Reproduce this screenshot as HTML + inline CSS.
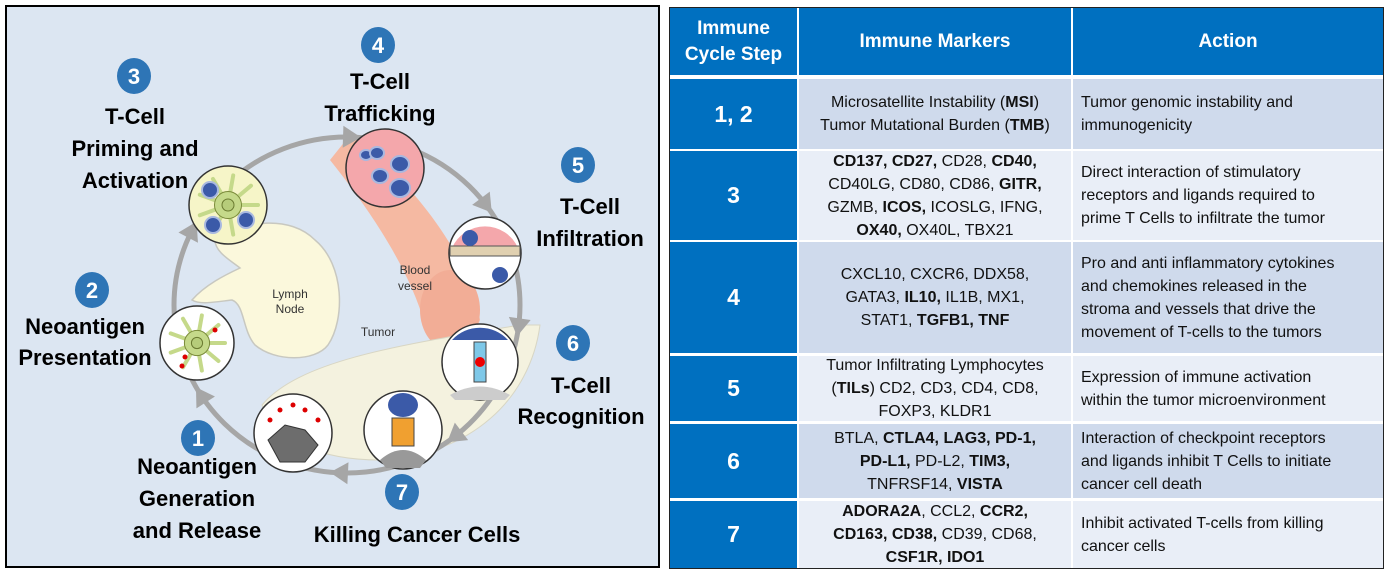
<!DOCTYPE html>
<html><head><meta charset="utf-8">
<style>
html,body{margin:0;padding:0;background:#fff;width:1387px;height:576px;overflow:hidden;font-family:"Liberation Sans",Arial,sans-serif;}
#left{position:absolute;left:5px;top:5px;width:651px;height:559px;border:2px solid #000;background:#dce6f2;}
#left svg{position:absolute;left:0;top:0;}
#tbl{position:absolute;left:669px;top:7px;width:713px;height:560px;border:1px solid #222;background:#fff;}
.c{position:absolute;display:flex;align-items:center;justify-content:center;text-align:center;box-sizing:border-box;font-size:16px;line-height:23px;color:#111;}
.h{background:#0070c0;color:#fff;font-weight:bold;font-size:19px;line-height:26px;}
.s{background:#0070c0;color:#fff;font-weight:bold;font-size:23px;}
.a{justify-content:flex-start;text-align:left;padding-left:8px;}
.d{background:#cfdaec;}
.l{background:#e9eef7;}
b{font-weight:bold;}
</style></head><body>
<div id="left">
<svg width="651" height="559" viewBox="7 7 651 559" xmlns="http://www.w3.org/2000/svg" id="dg">
  <path d="M215,240 C245,220 290,215 315,240 C345,265 345,320 328,345 C315,362 275,362 255,345 C242,330 245,305 232,300 C215,302 200,305 192,300 C205,285 225,275 240,268 C230,260 215,252 215,240 Z" fill="#fbf8dc" stroke="#c8c8c0" stroke-width="1.5"/>
  <text x="290" y="298" font-size="12" fill="#333" text-anchor="middle">Lymph</text>
  <text x="290" y="313" font-size="12" fill="#333" text-anchor="middle">Node</text>
  <path d="M330,160 L350,135 C400,170 470,250 480,320 C470,345 435,350 425,325 C410,270 370,210 330,160 Z" fill="#f5b9a2"/>
  <ellipse cx="450" cy="310" rx="30" ry="40" fill="#f2ad96"/>
  <text x="415" y="274" font-size="12" fill="#333" text-anchor="middle">Blood</text>
  <text x="415" y="290" font-size="12" fill="#333" text-anchor="middle">vessel</text>
  <path d="M262,405 C300,360 400,345 520,325 L540,325 C530,400 470,455 380,460 C320,460 275,440 262,405 Z" fill="#f4f2df" stroke="#d8d6c4" stroke-width="1"/>
  <text x="378" y="336" font-size="12" fill="#333" text-anchor="middle">Tumor</text>
  <g id="ring"></g>
  <g id="circles"></g>
  <g id="labels" font-family="Liberation Sans, Arial, sans-serif" font-weight="bold" font-size="22" fill="#000" text-anchor="middle">
    <text x="135" y="124">T-Cell</text>
    <text x="135" y="156">Priming and</text>
    <text x="135" y="188">Activation</text>
    <text x="380" y="89">T-Cell</text>
    <text x="380" y="121">Trafficking</text>
    <text x="590" y="214">T-Cell</text>
    <text x="590" y="246">Infiltration</text>
    <text x="85" y="334">Neoantigen</text>
    <text x="85" y="365">Presentation</text>
    <text x="581" y="393">T-Cell</text>
    <text x="581" y="424">Recognition</text>
    <text x="197" y="474">Neoantigen</text>
    <text x="197" y="506">Generation</text>
    <text x="197" y="538">and Release</text>
    <text x="417" y="542">Killing Cancer Cells</text>
  </g>
  <g id="badges"></g>
</svg>
</div>

<div id="tbl"></div>

<script>
var NS="http://www.w3.org/2000/svg";
function mk(tag,attrs,parent){var e=document.createElementNS(NS,tag);for(var k in attrs)e.setAttribute(k,attrs[k]);parent.appendChild(e);return e;}
var ring=document.getElementById('ring');
var cx=347,cy=305,rx=173,ry=168;
mk('ellipse',{cx:cx,cy:cy,rx:rx,ry:ry,fill:'none',stroke:'#a6a6a6','stroke-width':5},ring);
var arrowAngles=[207,272,324,8,52,93,148];
arrowAngles.forEach(function(a){
  var t=a*Math.PI/180;var x=cx+rx*Math.cos(t),y=cy+ry*Math.sin(t);
  var dx=-rx*Math.sin(t),dy=ry*Math.cos(t);var ang=Math.atan2(dy,dx)*180/Math.PI;
  var p=mk('polygon',{points:'8,0 -10,-11 -10,11',fill:'#a6a6a6',transform:'translate('+x+','+y+') rotate('+ang+')'},ring);
  
  
});
var cg=document.getElementById('circles');
var circ=[[197,343,37,'#fff','presentation'],[228,205,39,'#f6f5c8','priming'],[385,168,39,'#f4a7ab','trafficking'],[485,253,36,'#fff','infiltration'],[480,362,38,'#fff','recognition'],[403,430,39,'#fff','killing'],[293,433,39,'#fff','release']];
circ.forEach(function(c){
  var e=mk('circle',{cx:c[0],cy:c[1],r:c[2],fill:c[3],stroke:'#333','stroke-width':1.5},cg);
  
  
});
function cell(x,y,r,fill){for(var i=0;i<9;i++){var t=i*40*Math.PI/180;mk('line',{x1:x,y1:y,x2:x+r*Math.cos(t),y2:y+r*Math.sin(t),stroke:fill,'stroke-width':4,'stroke-linecap':'round'},cg);}mk('circle',{cx:x,cy:y,r:r*0.45,fill:fill,stroke:'#7a8a3a'},cg);mk('circle',{cx:x,cy:y,r:r*0.2,fill:'#b6cc7a',stroke:'#6a7a30'},cg);}
cell(197,343,28,'#c5d98a');cell(228,205,30,'#c5d98a');
[[210,190],[213,225],[246,220]].forEach(function(p){mk('circle',{cx:p[0],cy:p[1],r:8,fill:'#3b5aa8',stroke:'#a8b8e0','stroke-width':2},cg);});
[[366,155],[377,153],[380,176],[400,164],[400,188]].forEach(function(p,i){mk('ellipse',{cx:p[0],cy:p[1],rx:6+i,ry:5+i,fill:'#3b5aa8',stroke:'#a8b8e0','stroke-width':2},cg);});
[[185,357],[182,366],[215,330]].forEach(function(p){mk('circle',{cx:p[0],cy:p[1],r:2.5,fill:'#d00'},cg);});
mk('path',{d:'M452,248 A36,36 0 0 1 518,248 Z',fill:'#f4a7ab'},cg);
mk('rect',{x:450,y:246,width:70,height:10,fill:'#e0d0b0',stroke:'#555'},cg);
mk('circle',{cx:470,cy:238,r:8,fill:'#3b5aa8'},cg);mk('circle',{cx:500,cy:275,r:8,fill:'#3b5aa8'},cg);
mk('path',{d:'M452,340 A38,38 0 0 1 508,340 Z',fill:'#3b5aa8'},cg);
mk('rect',{x:474,y:342,width:12,height:40,fill:'#7ec8e8',stroke:'#444'},cg);
mk('circle',{cx:480,cy:362,r:5,fill:'#e00'},cg);
mk('path',{d:'M450,395 Q480,378 510,395 L505,400 L455,400 Z',fill:'#ccc'},cg);
mk('ellipse',{cx:403,cy:405,rx:15,ry:12,fill:'#3b5aa8'},cg);
mk('rect',{x:392,y:418,width:22,height:28,fill:'#f0a030',stroke:'#444'},cg);
mk('path',{d:'M380,460 Q403,440 426,460 L420,468 L386,468 Z',fill:'#999'},cg);
mk('path',{d:'M268,440 L285,425 L305,430 L318,445 L305,462 L280,462 Z',fill:'#6d6d6d',stroke:'#333'},cg);
[[280,410],[293,405],[305,410],[318,420],[270,420]].forEach(function(p){mk('circle',{cx:p[0],cy:p[1],r:2.5,fill:'#d00'},cg);});
var bg=document.getElementById('badges');
var badges=[['1',198,438],['2',92,290],['3',134,76],['4',378,45],['5',578,165],['6',573,343],['7',402,492]];
badges.forEach(function(b){
  var g=mk('g',{},bg);
  
  
  mk('ellipse',{cx:b[1],cy:b[2],rx:17,ry:18,fill:'#2e75b6'},g);
  var t=mk('text',{x:b[1],y:b[2]+8,fill:'#fff','font-size':22,'font-weight':'bold','text-anchor':'middle'},g);t.textContent=b[0];
});

var tbl=document.getElementById('tbl');
var cols=[0,127,401,713];
var rowsY=[[0,67],[71,141],[143,232],[234,345],[348,413],[416,490],[493,560]];
var cells=[
 ['Immune<br>Cycle Step','Immune Markers','Action'],
 ['1, 2','Microsatellite Instability (<b>MSI</b>)<br>Tumor Mutational Burden (<b>TMB</b>)','Tumor genomic instability and<br>immunogenicity'],
 ['3','<b>CD137, CD27,</b> CD28, <b>CD40,</b><br>CD40LG, CD80, CD86, <b>GITR,</b><br>GZMB, <b>ICOS,</b> ICOSLG, IFNG,<br><b>OX40,</b> OX40L, TBX21','Direct interaction of stimulatory<br>receptors and ligands required to<br>prime T Cells to infiltrate the tumor'],
 ['4','CXCL10, CXCR6, DDX58,<br>GATA3, <b>IL10,</b> IL1B, MX1,<br>STAT1, <b>TGFB1, TNF</b>','Pro and anti inflammatory cytokines<br>and chemokines released in the<br>stroma and vessels that drive the<br>movement of T-cells to the tumors'],
 ['5','Tumor Infiltrating Lymphocytes<br>(<b>TILs</b>) CD2, CD3, CD4, CD8,<br>FOXP3, KLDR1','Expression of immune activation<br>within the tumor microenvironment'],
 ['6','BTLA, <b>CTLA4, LAG3, PD-1,<br>PD-L1,</b> PD-L2, <b>TIM3,</b><br>TNFRSF14, <b>VISTA</b>','Interaction of checkpoint receptors<br>and ligands inhibit T Cells to initiate<br>cancer cell death'],
 ['7','<b>ADORA2A</b>, CCL2, <b>CCR2,<br>CD163, CD38,</b> CD39, CD68,<br><b>CSF1R, IDO1</b>','Inhibit activated T-cells from killing<br>cancer cells']
];
cells.forEach(function(row,r){
  for(var c=0;c<3;c++){
    var d=document.createElement('div');
    var cls='c ';
    if(r==0)cls+='h';else if(c==0)cls+='s';else cls+=(r%2==1?'d':'l')+(c==2?' a':'');
    d.className=cls;
    d.style.left=(cols[c]+(c>0?2:0))+'px';
    d.style.width=(cols[c+1]-cols[c]-(c>0?2:0))+'px';
    d.style.top=rowsY[r][0]+'px';
    d.style.height=(rowsY[r][1]-rowsY[r][0])+'px';
    d.innerHTML='<div>'+row[c]+'</div>';
    
    
    tbl.appendChild(d);
  }
});
</script>
</body></html>
